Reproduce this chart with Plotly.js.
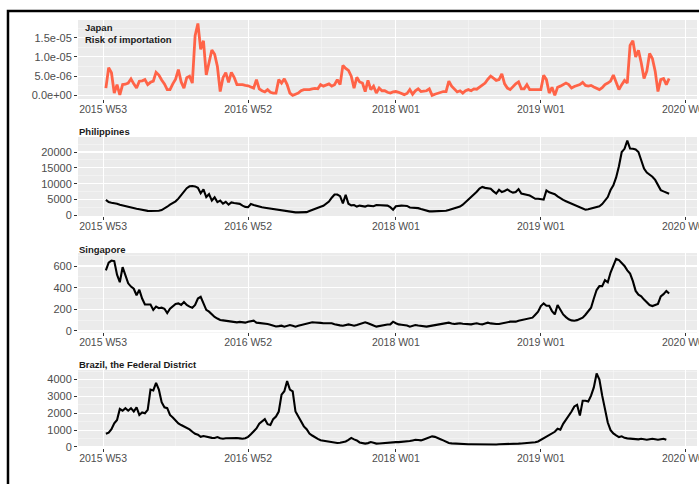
<!DOCTYPE html>
<html>
<head>
<meta charset="utf-8">
<script src="https://cdn.plot.ly/plotly-3.0.1.min.js"></script>
<style>html,body{margin:0;padding:0;background:#fff;}#chart{width:699px;height:484px;}</style>
</head>
<body>
<div id="chart"></div>
<script>
// Week index 0 = 2015 W53
const tickWeeks = [0, 52, 105, 157, 209];
const tickLabels = ['2015 W53', '2016 W52', '2018 W01', '2019 W01', '2020 W01'];

// Japan risk of importation (x 1e-6), weekly from week 1
const japanE6 = [1.9,7.2,5.9,0.6,2.8,0.1,2.8,2.9,3.2,4.3,3.0,1.9,3.7,3.8,4.1,2.8,3.4,3.7,6.0,5.3,
4.0,3.0,1.5,1.5,3.0,4.2,6.7,3.5,1.9,4.6,5.0,3.2,15.5,18.7,12.0,14.2,5.3,8.9,11.8,10.7,
7.5,1.0,4.6,5.9,3.4,6.0,4.7,2.8,2.8,2.8,2.6,2.5,2.2,1.9,4.1,1.7,1.2,0.9,1.5,0.8,
0.6,0.6,4.1,3.2,4.3,2.8,0.6,0.0,0.3,0.6,1.2,1.5,1.5,1.5,1.7,1.8,1.7,2.8,2.4,2.6,
3.0,2.4,2.8,4.1,2.8,7.8,7.0,6.5,5.0,1.9,4.7,3.5,3.2,1.0,3.9,1.5,2.4,0.6,1.9,1.2,
1.2,0.8,0.6,0.9,1.0,0.8,0.6,0.2,0.5,1.5,0.3,1.2,1.7,1.0,1.1,1.2,1.7,0.0,0.3,0.6,
0.8,1.0,1.0,3.7,2.4,1.5,0.9,1.2,0.6,1.2,1.5,1.2,1.7,1.6,2.2,2.8,3.2,4.2,5.0,4.5,
3.9,4.1,5.6,3.0,1.9,1.5,2.4,3.0,3.5,1.7,1.7,2.8,1.5,1.5,1.5,1.5,1.5,5.2,4.1,0.6,
2.1,0.0,2.1,2.4,2.8,3.2,2.8,1.9,2.3,2.6,2.8,3.4,2.6,2.4,2.6,2.2,1.9,1.5,2.0,2.8,
3.2,3.7,5.3,3.2,1.5,2.8,3.9,3.2,13.0,14.2,10.0,11.7,8.5,4.4,6.3,10.9,9.6,6.3,1.0,4.1,
4.4,2.8,4.4];

const philippines = [4900,4200,4000,3900,3700,3400,3150,2900,2700,2500,2350,2100,1950,1750,1600,1450,1400,1380,1400,1480,
1700,2150,2750,3400,3950,4450,5300,6500,7700,8600,9200,9300,9150,8700,7000,8200,5800,6700,4700,5700,
4200,4700,3700,4300,3400,4100,3900,3800,3650,3100,2700,2600,3600,3300,3000,2850,2600,2450,2300,2150,
2050,1900,1750,1600,1450,1300,1100,1000,960,960,960,1000,1050,1400,1800,2150,2450,2750,3050,3600,
4400,5600,6600,6600,6100,3800,6500,3700,3200,3300,2800,3100,2900,2800,3100,2900,2900,3300,3250,3200,
3150,3100,2600,1800,2900,3100,3100,3050,3000,2500,2450,2460,2300,2000,1700,1450,1300,1280,1280,1280,
1300,1380,1500,1750,2000,2200,2500,2800,3400,4200,4800,5600,6400,7500,8500,9000,8700,8600,8450,7600,
6900,8100,7400,7700,8200,7600,7200,7400,8300,6900,6700,6550,6300,5800,5250,5250,5100,5000,7900,7300,
7000,6700,6000,5400,4900,4500,4100,3700,3300,2900,2500,2100,1800,1950,2200,2500,2700,2900,3600,4600,
5800,8000,9500,12000,15500,20000,21000,23600,21100,21000,20800,20000,17500,14800,13500,12800,12200,11200,9500,8000,
7600,7200,6850];

const singapore = [560,630,650,645,520,450,590,520,440,410,390,330,380,300,245,245,245,195,225,210,
215,205,165,205,230,250,255,240,268,240,225,215,240,300,315,255,195,178,150,130,
115,102,98,95,90,86,82,80,84,80,77,86,90,95,77,75,71,68,64,58,
49,42,45,49,40,45,55,48,40,48,55,58,64,72,80,78,80,75,71,72,
70,71,62,55,52,49,55,61,55,49,55,61,70,80,72,64,50,40,45,55,
58,60,61,86,72,61,58,55,50,40,48,55,50,46,43,40,45,49,55,61,
66,71,74,77,70,64,68,71,66,64,62,61,66,71,65,61,70,77,70,64,
64,64,70,77,82,86,86,86,95,101,110,117,120,123,150,178,230,255,233,233,
184,153,240,193,153,128,108,98,95,100,110,123,150,185,215,300,378,414,414,470,
450,540,610,665,655,630,600,560,530,460,370,335,320,290,260,240,230,240,250,320,
340,370,345];

const brazilDF = [780,850,1050,1400,1600,2250,2150,2300,2150,2300,2100,2350,1900,2050,2000,2200,3400,3350,3800,3400,
2650,2350,2300,1900,1750,1550,1400,1300,1220,1130,1040,900,780,730,600,650,600,550,540,530,
590,520,490,520,530,550,540,530,510,490,520,600,750,950,1100,1380,1510,1650,1350,1300,
1650,1800,2100,3100,3300,3900,3400,3300,2100,1800,1550,1220,1050,800,680,560,480,400,370,360,
340,300,280,240,250,280,330,420,540,450,390,270,230,200,230,290,250,200,210,230,
235,235,260,290,290,290,300,330,340,350,390,430,410,390,450,510,580,630,600,550,
460,390,310,240,215,200,185,175,165,160,160,160,155,150,140,130,125,120,130,140,
150,160,160,165,170,175,180,190,200,210,220,230,240,250,280,330,430,520,620,700,
800,900,1080,1020,1370,1600,1850,2100,2400,2500,1860,2740,2740,2690,3040,3530,4350,4000,3040,2160,
1450,1000,800,690,590,630,540,510,490,460,430,450,490,460,430,460,490,460,430,460,
490,430];

const weeksOf = arr => arr.map((_, i) => i + 1);

const FONT = 'Liberation Sans, Arial, sans-serif';
const xMinor = [26, 78.5, 131, 183];

function xAxis(anchor) {
  return {
    anchor: anchor, domain: [0, 1], range: [-9, 213],
    tickmode: 'array', tickvals: tickWeeks, ticktext: tickLabels,
    ticks: 'outside', ticklen: 3, tickcolor: '#333333', tickwidth: 1,
    ticklabeloverflow: 'allow', ticklabelstandoff: -3,
    tickfont: {family: FONT, size: 10.5, color: '#4D4D4D'},
    showgrid: true, gridcolor: '#FFFFFF', gridwidth: 1.1,
    minor: {tickmode: 'array', tickvals: xMinor, showgrid: true, gridcolor: '#F7F7F7', gridwidth: 0.6, ticks: ''},
    zeroline: false, showline: false, fixedrange: true
  };
}
function yAxis(anchor, domain, range, tv, tt, minorVals) {
  return {
    anchor: anchor, domain: domain, range: range,
    tickmode: 'array', tickvals: tv, ticktext: tt,
    ticks: 'outside', ticklen: 3, tickcolor: '#333333', tickwidth: 1,
    tickfont: {family: FONT, size: 11, color: '#4D4D4D'},
    showgrid: true, gridcolor: '#FFFFFF', gridwidth: 1.1,
    minor: {tickmode: 'array', tickvals: minorVals, showgrid: true, gridcolor: '#F7F7F7', gridwidth: 0.6, ticks: ''},
    zeroline: false, showline: false, fixedrange: true
  };
}

const japan = japanE6.map(v => v * 1e-6);

const traces = [
  {x: weeksOf(japan), y: japan, xaxis: 'x', yaxis: 'y', type: 'scatter', mode: 'lines',
   line: {color: '#FF6347', width: 2.8}, hoverinfo: 'skip'},
  {x: weeksOf(philippines), y: philippines, xaxis: 'x2', yaxis: 'y2', type: 'scatter', mode: 'lines',
   line: {color: '#000000', width: 2.1}, hoverinfo: 'skip'},
  {x: weeksOf(singapore), y: singapore, xaxis: 'x3', yaxis: 'y3', type: 'scatter', mode: 'lines',
   line: {color: '#000000', width: 2.1}, hoverinfo: 'skip'},
  {x: weeksOf(brazilDF), y: brazilDF, xaxis: 'x4', yaxis: 'y4', type: 'scatter', mode: 'lines',
   line: {color: '#000000', width: 2.1}, hoverinfo: 'skip'}
];

const titleFont = {family: FONT, size: 9.5, color: '#1A1A1A', weight: 'bold'};

const layout = {
  width: 699, height: 484,
  margin: {l: 78, r: 2, t: 0, b: 0},
  paper_bgcolor: '#FFFFFF', plot_bgcolor: '#EBEBEB',
  showlegend: false,
  xaxis: xAxis('y'), xaxis2: xAxis('y2'), xaxis3: xAxis('y3'), xaxis4: xAxis('y4'),
  yaxis: yAxis('x', [0.79545, 0.95868], [-0.094e-5, 1.96e-5],
    [0, 5e-6, 1e-5, 1.5e-5], ['0.0e+00', '5.0e-06', '1.0e-05', '1.5e-05'], [2.5e-6, 7.5e-6, 1.25e-5, 1.75e-5]),
  yaxis2: yAxis('x2', [0.55372, 0.71694], [-170, 24730],
    [0, 5000, 10000, 15000, 20000], ['0', '5000', '10000', '15000', '20000'], [2500, 7500, 12500, 17500, 22500]),
  yaxis3: yAxis('x3', [0.31302, 0.47727], [-14, 720],
    [0, 200, 400, 600], ['0', '200', '400', '600'], [100, 300, 500, 700]),
  yaxis4: yAxis('x4', [0.07438, 0.23554], [-60, 4560],
    [0, 1000, 2000, 3000, 4000], ['0', '1000', '2000', '3000', '4000'], [500, 1500, 2500, 3500, 4500]),
  annotations: [
    {text: 'Japan<br>Risk of importation', xref: 'paper', yref: 'paper', x: 0.0081, y: 0.9318,
     xanchor: 'left', yanchor: 'middle', align: 'left', showarrow: false, font: titleFont},
    {text: 'Philippines', xref: 'paper', yref: 'paper', x: -0.0016, y: 0.7293,
     xanchor: 'left', yanchor: 'middle', align: 'left', showarrow: false, font: titleFont},
    {text: 'Singapore', xref: 'paper', yref: 'paper', x: -0.0016, y: 0.4855,
     xanchor: 'left', yanchor: 'middle', align: 'left', showarrow: false, font: titleFont},
    {text: 'Brazil, the Federal District', xref: 'paper', yref: 'paper', x: -0.0016, y: 0.2479,
     xanchor: 'left', yanchor: 'middle', align: 'left', showarrow: false, font: titleFont}
  ],
  shapes: [
    {type: 'rect', xref: 'paper', yref: 'paper', x0: -0.1131, x1: 1.2, y0: -0.2, y1: 0.9773,
     line: {color: '#000000', width: 2.5}, fillcolor: 'rgba(0,0,0,0)', layer: 'above'}
  ]
};

Plotly.newPlot('chart', traces, layout, {staticPlot: true, displayModeBar: false});
</script>
</body>
</html>
